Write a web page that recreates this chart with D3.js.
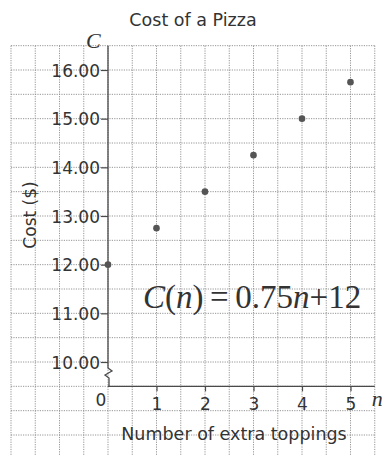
<!DOCTYPE html>
<html>
<head>
<meta charset="utf-8">
<script src="https://cdn.jsdelivr.net/npm/d3@7"></script>
<style>
  html, body { margin: 0; padding: 0; background: #fff; }
  svg { display: block; }
  .sans { font-family: "DejaVu Sans", "Open Sans", sans-serif; fill: #333; }
  .serif { font-family: "Liberation Serif", "DejaVu Serif", serif; fill: #333; }
</style>
</head>
<body>
<svg id="chart" width="382" height="456"></svg>
<script>
// Pizza cost by number of extra toppings: C(n) = 0.75n + 12
const toppings = [0, 1, 2, 3, 4, 5];
const costs = [12.00, 12.75, 13.50, 14.25, 15.00, 15.75];
const costTicks = [10, 11, 12, 13, 14, 15, 16];
const toppingTicks = [0, 1, 2, 3, 4, 5];

const W = 382, H = 456;
const svg = d3.select("#chart");

// Graph-paper scales: half-unit grid squares on both axes
const x = d3.scaleLinear().domain([0, 5]).range([108, 350.5]);
const y = d3.scaleLinear().domain([10, 16]).range([362, 70]);

const gridTop = y(16.5);
const xAxisY = y(9.5);       // broken axis: horizontal axis sits half a square below 10.00
const gridLeft = x(-2);
const gridRight = x(5.5);

const grid = svg.append("g")
  .attr("stroke", "#8a8a8a")
  .attr("stroke-width", 0.9)
  .attr("stroke-dasharray", "1.2,1.2");

// vertical grid lines
grid.selectAll("line.v")
  .data(d3.range(-2, 5.51, 0.5))
  .join("line")
  .attr("x1", d => x(d)).attr("x2", d => x(d))
  .attr("y1", gridTop).attr("y2", H);

// horizontal grid lines
grid.selectAll("line.h")
  .data(d3.range(8, 16.51, 0.5))
  .join("line")
  .attr("x1", gridLeft).attr("x2", gridRight)
  .attr("y1", d => y(d)).attr("y2", d => y(d));

// vertical axis with a break symbol just above the horizontal axis
const axisColor = "#4a4a4a";
const breakTop = y(10) + 6;
svg.append("path")
  .attr("fill", "none")
  .attr("stroke", axisColor)
  .attr("stroke-width", 1.3)
  .attr("d", `M${x(0)},${gridTop} V${breakTop} l4,3 l-7,4 l4,3 V${xAxisY}`);

// horizontal axis
svg.append("line")
  .attr("x1", x(0)).attr("x2", gridRight)
  .attr("y1", xAxisY).attr("y2", xAxisY)
  .attr("stroke", axisColor).attr("stroke-width", 1.3);

// cost ticks and labels
const yAxis = d3.axisLeft(y)
  .tickValues(costTicks)
  .tickSize(7)
  .tickPadding(1)
  .tickFormat(d3.format(".2f"));
const gy = svg.append("g").attr("transform", `translate(${x(0)},0)`).call(yAxis);
gy.select(".domain").remove();
gy.selectAll(".tick line").attr("stroke", axisColor).attr("stroke-width", 1.2);
gy.selectAll(".tick text")
  .attr("class", "sans")
  .attr("fill", "#333")
  .style("font-size", "17px")
  .attr("dy", "0.36em");

// topping ticks and labels
const xAxis = d3.axisBottom(x)
  .tickValues(toppingTicks.filter(d => d > 0))
  .tickSize(5)
  .tickPadding(7)
  .tickFormat(d3.format("d"));
const gx = svg.append("g").attr("transform", `translate(0,${xAxisY})`).call(xAxis);
gx.select(".domain").remove();
gx.selectAll(".tick line").attr("stroke", axisColor).attr("stroke-width", 1.2);
gx.selectAll(".tick text")
  .attr("class", "sans")
  .attr("fill", "#333")
  .style("font-size", "17px");

// origin label
svg.append("text")
  .attr("class", "sans")
  .attr("x", x(0) - 7).attr("y", xAxisY + 20)
  .attr("text-anchor", "middle")
  .style("font-size", "17px")
  .text(toppingTicks[0]);

// variable names at the axis ends
svg.append("text")
  .attr("class", "serif")
  .attr("x", x(0) - 22).attr("y", gridTop + 2)
  .style("font-size", "22px").style("font-style", "italic")
  .text("C");
svg.append("text")
  .attr("class", "serif")
  .attr("x", gridRight - 3).attr("y", xAxisY + 20)
  .style("font-size", "22px").style("font-style", "italic")
  .text("n");

// data points
svg.append("g")
  .selectAll("circle")
  .data(toppings.map((n, i) => ({ n, c: costs[i] })))
  .join("circle")
  .attr("cx", d => x(d.n))
  .attr("cy", d => y(d.c))
  .attr("r", 3.3)
  .attr("fill", "#555");

// title
svg.append("text")
  .attr("class", "sans")
  .attr("x", 193).attr("y", 26)
  .attr("text-anchor", "middle")
  .style("font-size", "17.5px")
  .text("Cost of a Pizza");

// axis titles
svg.append("text")
  .attr("class", "sans")
  .attr("transform", `translate(36,215) rotate(-90)`)
  .attr("text-anchor", "middle")
  .style("font-size", "17px")
  .text("Cost ($)");

svg.append("text")
  .attr("class", "sans")
  .attr("x", 234).attr("y", 440)
  .attr("text-anchor", "middle")
  .style("font-size", "17.5px")
  .text("Number of extra toppings");

// rule of the function
const formula = svg.append("text")
  .attr("class", "serif")
  .attr("x", 143).attr("y", 308)
  .style("font-size", "33px");
formula.append("tspan").style("font-style", "italic").text("C");
formula.append("tspan").text("(");
formula.append("tspan").style("font-style", "italic").text("n");
formula.append("tspan").text(")\u2009=\u20090.75");
formula.append("tspan").style("font-style", "italic").text("n");
formula.append("tspan").text("+12");
</script>
</body>
</html>
